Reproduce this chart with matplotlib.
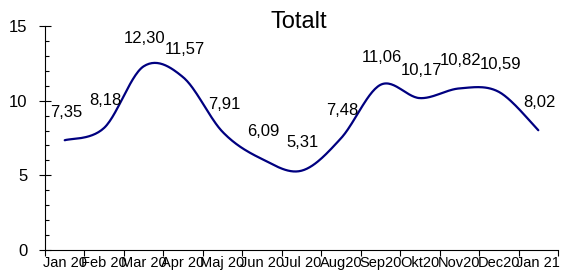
import numpy as np
import matplotlib.pyplot as plt
from matplotlib.ticker import FixedLocator, MultipleLocator

plt.rcParams['font.family'] = ['Liberation Sans', 'DejaVu Sans']

months = ['Jan 20', 'Feb 20', 'Mar 20', 'Apr 20', 'Maj 20', 'Jun 20', 'Jul 20',
          'Aug20', 'Sep20', 'Okt20', 'Nov20', 'Dec20', 'Jan 21']
values = [7.35, 8.18, 12.30, 11.57, 7.91, 6.09, 5.31, 7.48, 11.06, 10.17, 10.82, 10.59, 8.02]

x = np.arange(len(values))
y = np.array(values)

# smoothed line like the spreadsheet one (bezier with 1/6 tension)
xp = np.concatenate([[x[0]], x, [x[-1]]]).astype(float)
yp = np.concatenate([[y[0]], y, [y[-1]]])
sx, sy = [], []
t = np.linspace(0, 1, 30)
for i in range(1, len(xp) - 2):
    p0, p1, p2, p3 = [np.array([xp[j], yp[j]]) for j in (i - 1, i, i + 1, i + 2)]
    c1 = p1 + (p2 - p0) / 6
    c2 = p2 - (p3 - p1) / 6
    pts = ((1 - t) ** 3)[:, None] * p1 + (3 * (1 - t) ** 2 * t)[:, None] * c1 \
        + (3 * (1 - t) * t ** 2)[:, None] * c2 + (t ** 3)[:, None] * p2
    sx.extend(pts[:, 0])
    sy.extend(pts[:, 1])

fig = plt.figure(figsize=(5.61, 2.74), dpi=100)
ax = fig.add_axes([0.0802, 0.0876, 0.9145, 0.8175])
ax.plot(sx, sy, color='#000080', lw=1.6, solid_capstyle='round')

for xi, v in zip(x, values):
    ax.annotate(f'{v:.2f}'.replace('.', ','), (xi, v), xytext=(1, 20),
                textcoords='offset points', ha='center', va='center', fontsize=12)

ax.set_xlim(-0.5, len(values) - 0.5)
ax.set_ylim(0, 15)
ax.xaxis.set_major_locator(FixedLocator(np.arange(-0.5, len(values), 1)))
ax.xaxis.set_minor_locator(FixedLocator(x))
ax.set_xticklabels([], minor=False)
ax.set_xticklabels(months, minor=True, fontsize=10.5)
ax.tick_params(axis='x', which='major', direction='out', length=4, width=0.8)
ax.tick_params(axis='x', which='minor', length=0, pad=4)

ax.yaxis.set_major_locator(MultipleLocator(5))
ax.yaxis.set_minor_locator(MultipleLocator(1))
ax.tick_params(axis='y', which='major', direction='inout', length=9, width=0.8, labelsize=12, pad=8)
ax.tick_params(axis='y', which='minor', direction='in', length=3, width=0.8)

for s in ['top', 'right']:
    ax.spines[s].set_visible(False)
for s in ['left', 'bottom']:
    ax.spines[s].set_linewidth(0.8)

fig.text(0.533, 1 - 22 / 274, 'Totalt', ha='center', va='center', fontsize=17)

fig.savefig('out.png', dpi=100)
